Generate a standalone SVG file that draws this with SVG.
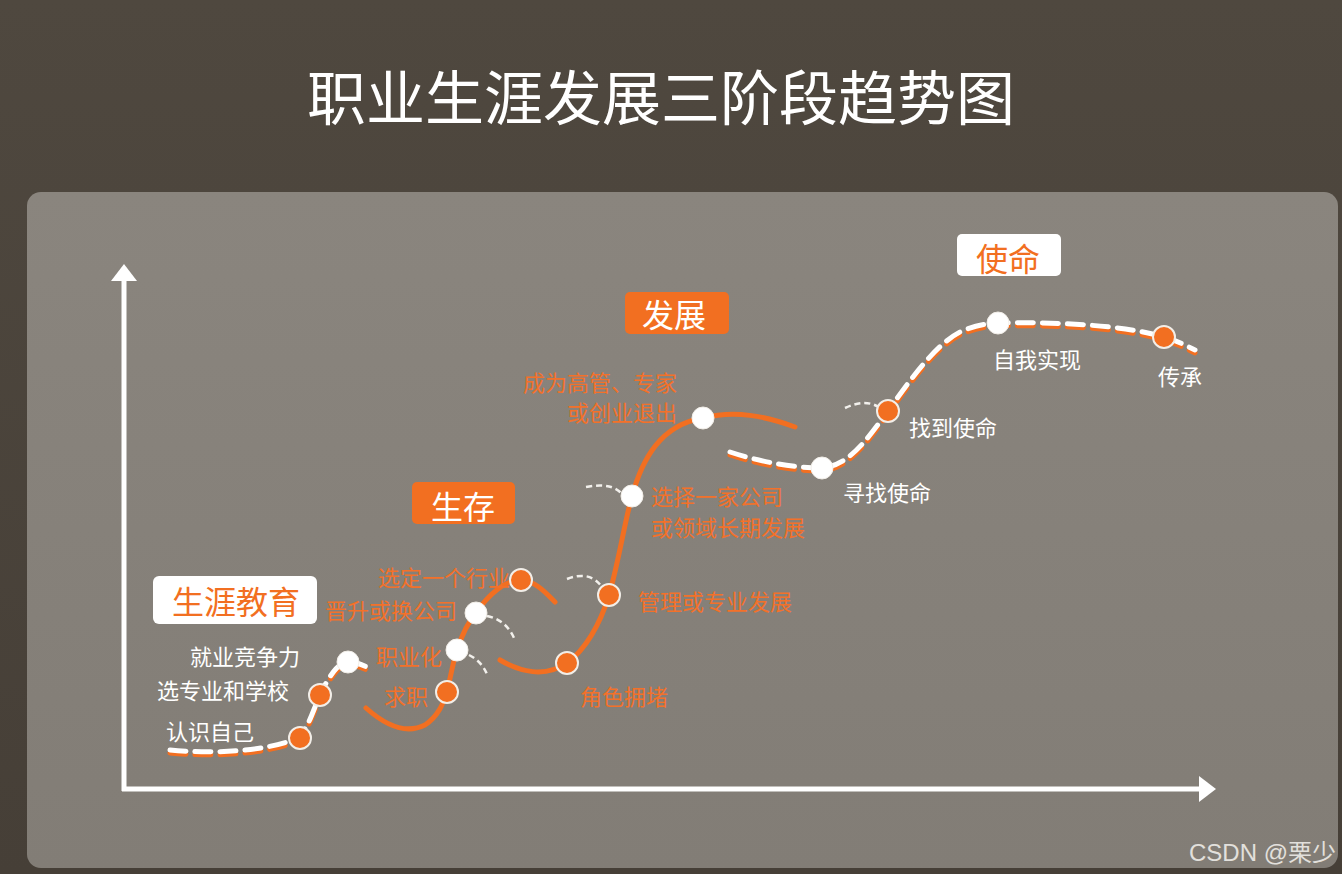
<svg xmlns="http://www.w3.org/2000/svg" width="1342" height="874" viewBox="0 0 1342 874">
<defs>
<linearGradient id="bg" x1="0" y1="0" x2="0" y2="1">
<stop offset="0" stop-color="#4f483f"/><stop offset="1" stop-color="#463f37"/>
</linearGradient>
<linearGradient id="panel" x1="0" y1="0" x2="0" y2="1">
<stop offset="0" stop-color="#8a857e"/><stop offset="1" stop-color="#827d76"/>
</linearGradient>
<style>
.t{font-family:"Noto Sans CJK SC","Liberation Sans",sans-serif}
.lw{fill:#ffffff;font-size:22px}
.lo{fill:#f3712a;font-size:22px}
.st{font-size:32px;text-anchor:middle}
.dashO{fill:none;stroke:#f26f21;stroke-width:5;stroke-dasharray:16 9;stroke-linecap:round}
.dashW{fill:none;stroke:#ffffff;stroke-width:5;stroke-dasharray:16 9;stroke-linecap:round}
.solid{fill:none;stroke:#f26f21;stroke-width:5;stroke-linecap:round}
.arc{fill:none;stroke:#f2f0ec;stroke-width:2.5;stroke-dasharray:6 4}
.no{fill:#f26f21;stroke:#f2eee8;stroke-width:2}
.nw{fill:#ffffff;stroke:#f2eee8;stroke-width:1}
</style>
</defs>
<rect width="1342" height="874" fill="url(#bg)"/>
<rect x="27" y="192" width="1311" height="676" rx="14" fill="url(#panel)"/>
<text class="t" x="661" y="120" fill="#ffffff" font-size="59" text-anchor="middle">职业生涯发展三阶段趋势图</text>

<g id="axes">
<line x1="124" y1="791" x2="124" y2="278" stroke="#ffffff" stroke-width="5"/>
<polygon points="124,264 111,281 137,281" fill="#ffffff"/>
<line x1="122" y1="789" x2="1202" y2="789" stroke="#ffffff" stroke-width="5"/>
<polygon points="1216,789 1199,776 1199,802" fill="#ffffff"/>
</g>

<g id="connectors">
<g transform="translate(0,3)">
<path class="dashO" d="M170,750 C210,754 265,752 298,738 C310,725 313,710 320,695 C328,678 338,662 348,662 C358,662 365,666 372,670"/>
<path class="dashO" d="M730,452 C760,462 795,468 822,468 C850,466 870,435 888,411 C910,380 935,345 960,332 C975,325 990,323 998,323 C1050,322 1120,324 1164,337 C1175,340 1185,345 1195,350"/>
</g>
<path class="dashW" d="M170,750 C210,754 265,752 298,738 C310,725 313,710 320,695 C328,678 338,662 348,662 C358,662 365,666 372,670"/>
<path class="dashW" d="M730,452 C760,462 795,468 822,468 C850,466 870,435 888,411 C910,380 935,345 960,332 C975,325 990,323 998,323 C1050,322 1120,324 1164,337 C1175,340 1185,345 1195,350"/>
<path class="solid" d="M366,708 C385,725 405,735 425,725 C440,715 444,700 447,692 C451,675 453,662 457,650 C462,635 468,622 476,613 C488,595 505,580 521,580 C535,581 545,592 555,602"/>
<path class="solid" d="M500,660 C520,672 545,678 567,663 C585,650 600,625 609,595 C618,565 625,520 632,496 C642,460 660,425 703,418 C735,410 765,416 795,427"/>
<path class="arc" d="M487,616 Q506,620 514,638"/>
<path class="arc" d="M469,655 Q483,662 488,677"/>
<path class="arc" d="M567,579 Q590,570 602,587"/>
<path class="arc" d="M586,487 Q612,482 622,494"/>
<path class="arc" d="M845,408 Q866,398 880,408"/>
</g>

<g id="stage-edu"><rect x="153" y="576" width="164" height="48" rx="6" fill="#ffffff"/><text class="t st" x="236" y="614" fill="#f26f21" font-size="34">生涯教育</text></g>
<g id="stage-survive"><rect x="412" y="482" width="103" height="42" rx="5" fill="#f26f21"/><text class="t st" x="463" y="519" fill="#ffffff">生存</text></g>
<g id="stage-develop"><rect x="625" y="292" width="104" height="42" rx="5" fill="#f26f21"/><text class="t st" x="674" y="327" fill="#ffffff">发展</text></g>
<g id="stage-mission"><rect x="957" y="234" width="104" height="42" rx="5" fill="#ffffff"/><text class="t st" x="1008" y="271" fill="#f26f21">使命</text></g>

<g id="n1"><circle class="no" cx="300" cy="738" r="11"/><text class="t lw" x="166" y="740">认识自己</text></g>
<g id="n2"><circle class="no" cx="320" cy="695" r="11"/><text class="t lw" x="157" y="699">选专业和学校</text></g>
<g id="n3"><circle class="nw" cx="348" cy="662" r="11"/><text class="t lw" x="190" y="665">就业竞争力</text></g>
<g id="n4"><circle class="no" cx="447" cy="692" r="11"/><text class="t lo" x="384" y="705">求职</text></g>
<g id="n5"><circle class="nw" cx="457" cy="650" r="11"/><text class="t lo" x="376" y="665">职业化</text></g>
<g id="n6"><circle class="nw" cx="476" cy="613" r="11"/><text class="t lo" x="325" y="619">晋升或换公司</text></g>
<g id="n7"><circle class="no" cx="521" cy="580" r="11"/><text class="t lo" x="378" y="586">选定一个行业</text></g>
<g id="n8"><circle class="no" cx="567" cy="663" r="11"/><text class="t lo" x="580" y="705">角色拥堵</text></g>
<g id="n9"><circle class="no" cx="609" cy="595" r="11"/><text class="t lo" x="638" y="610">管理或专业发展</text></g>
<g id="n10"><circle class="nw" cx="632" cy="496" r="11"/><text class="t lo" x="651" y="505">选择一家公司</text><text class="t lo" x="651" y="536">或领域长期发展</text></g>
<g id="n11"><circle class="nw" cx="703" cy="418" r="11"/><text class="t lo" x="677" y="391" text-anchor="end">成为高管、专家</text><text class="t lo" x="677" y="421" text-anchor="end">或创业退出</text></g>
<g id="n12"><circle class="nw" cx="822" cy="468" r="11"/><text class="t lw" x="843" y="501">寻找使命</text></g>
<g id="n13"><circle class="no" cx="888" cy="411" r="11"/><text class="t lw" x="909" y="436">找到使命</text></g>
<g id="n14"><circle class="nw" cx="998" cy="323" r="11"/><text class="t lw" x="993" y="368">自我实现</text></g>
<g id="n15"><circle class="no" cx="1164" cy="337" r="11"/><text class="t lw" x="1158" y="385">传承</text></g>

<text x="1336" y="861" fill="#e2e0dc" font-size="24" text-anchor="end" font-family="Liberation Sans,Noto Sans CJK SC,sans-serif">CSDN @栗少</text>
</svg>
